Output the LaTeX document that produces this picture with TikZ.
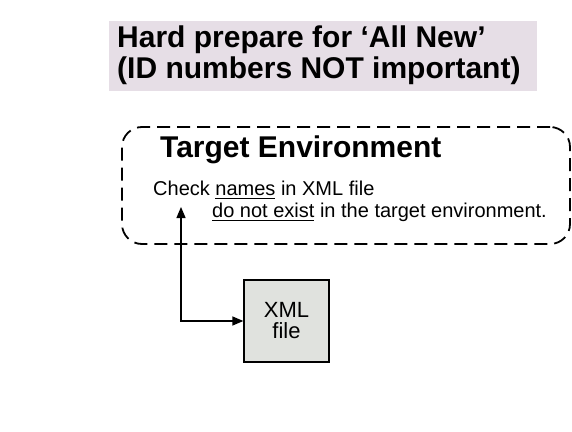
\documentclass[tikz,border=0pt]{standalone}
\usepackage{fontspec}
\setmainfont{Liberation Sans}
\usetikzlibrary{arrows.meta}
\definecolor{titlebg}{RGB}{230,222,230}
\definecolor{boxfill}{RGB}{224,226,222}
\newcommand\myul[1]{\setbox0\hbox{#1}\rlap{\rule[-4pt]{\wd0}{1.2pt}}\box0\relax}
\begin{document}
\begin{tikzpicture}[x=1pt,y=1pt,
  txt/.style={anchor=base west, inner sep=0, align=left},
  envbox/.style={draw, dash pattern=on 13pt off 7pt, line width=1.8pt, rounded corners=20pt, inner sep=0},
  filebox/.style={draw, line width=1.3pt, fill=boxfill, inner sep=0, align=center},
  conn/.style={line width=1.3pt, {Triangle[length=11pt,width=9pt]}-{Triangle[length=11pt,width=9pt]}}]
\useasboundingbox (0,0) rectangle (572,-431);
% title
\node[fill=titlebg, minimum width=428pt, minimum height=70pt, inner sep=0, anchor=north west] (titlebg) at (109,-21) {};
\node[txt, font=\fontsize{30}{31}\selectfont\bfseries] (title) at (117,-78) {Hard prepare for ‘All New’\\(ID numbers NOT important)};
% environment box
\node[envbox, minimum width=448pt, minimum height=117pt] (env) at (346,-185.5) {};
\node[txt, font=\fontsize{30}{36}\selectfont\bfseries] (target) at (160,-157) {Target Environment};
\node[txt, font=\fontsize{20}{22}\selectfont] (check) at (153,-217) {Check \myul{names} in XML file\\\hspace*{59pt}\myul{do not exist} in the target environment.};
% xml file
\node[filebox, minimum width=85pt, minimum height=82pt, font=\fontsize{22}{21}\selectfont] (xml) at (286.5,-321) {XML\\file};
\coordinate (tip) at (181,-207);
\draw[conn] (tip) |- (xml.west);
\end{tikzpicture}
\end{document}
